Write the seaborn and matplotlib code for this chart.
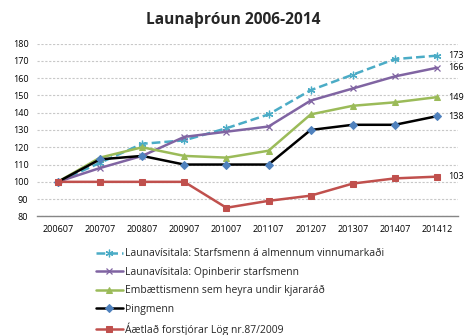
import matplotlib
matplotlib.use("Agg")
import matplotlib.pyplot as plt
import seaborn as sns
import pandas as pd

periods = ["200607", "200707", "200807", "200907", "201007", "201107",
           "201207", "201307", "201407", "201412"]
almennur = [100, 111, 122, 124, 131, 139, 153, 162, 171, 173]
opinberir = [100, 108, 115, 126, 129, 132, 147, 154, 161, 166]
kjararad = [100, 114, 120, 115, 114, 118, 139, 144, 146, 149]
thingmenn = [100, 113, 115, 110, 110, 110, 130, 133, 133, 138]
forstjorar = [100, 100, 100, 100, 85, 89, 92, 99, 102, 103]

names = ["Launavísitala: Starfsmenn á almennum vinnumarkaði",
         "Launavísitala: Opinberir starfsmenn",
         "Embættismenn sem heyra undir kjararáð",
         "Þingmenn",
         "Áætlað forstjórar Lög nr.87/2009"]
series = [almennur, opinberir, kjararad, thingmenn, forstjorar]
end_labels = ["173", "166", "149", "138", "103"]

sns.set_theme(style="white")
plt.rcParams["font.family"] = ["Open Sans", "DejaVu Sans"]

fig = plt.figure(figsize=(4.66, 3.35), dpi=100)
ax = fig.add_axes([0.079, 0.354, 0.904, 0.516])

styles = [
    dict(color="#4BACC6", linestyle=(0, (3.5, 1.6)), marker=(6, 2, 0), markersize=5.5,
         markeredgewidth=0.9, markeredgecolor="#4BACC6", linewidth=1.8),
    dict(color="#8064A2", linestyle="-", marker="x", markersize=4.5,
         markeredgewidth=0.9, markeredgecolor="#8064A2", linewidth=1.8),
    dict(color="#9BBB59", linestyle="-", marker="^", markersize=5,
         markeredgecolor="#9BBB59", markerfacecolor="#9BBB59", linewidth=1.8),
    dict(color="black", linestyle="-", marker="D", markersize=3.8,
         markeredgecolor="#4F81BD", markerfacecolor="#4F81BD", linewidth=1.8),
    dict(color="#C0504D", linestyle="-", marker="s", markersize=4.6,
         markeredgecolor="#C0504D", markerfacecolor="#C0504D", linewidth=1.8),
]

handles = []
for name, vals, st in zip(names, series, styles):
    df = pd.DataFrame({"period": periods, "value": vals})
    sns.lineplot(data=df, x="period", y="value", ax=ax, sort=False,
                 clip_on=False, **st)
    handles.append(ax.lines[-1])

for vals, lab in zip(series, end_labels):
    ax.annotate(lab, xy=(len(periods) - 1, vals[-1]), xytext=(8, 0),
                textcoords="offset points", va="center", ha="left",
                fontsize=6.5, color="black", annotation_clip=False)

ax.set_xlim(-0.5, len(periods) - 0.5)
ax.set_ylim(80, 180)
ax.set_yticks(range(80, 181, 10))
ax.set_xlabel("")
ax.set_ylabel("")
ax.tick_params(axis="both", labelsize=6.5, length=0, colors="black")
ax.tick_params(axis="y", pad=6)
ax.tick_params(axis="x", pad=6)
ax.yaxis.grid(True, color="#C8C8C8", linestyle=(0, (2, 1.5)), linewidth=0.8)
ax.xaxis.grid(False)
for s in ["top", "right", "left"]:
    ax.spines[s].set_visible(False)
ax.spines["bottom"].set_color("#868686")
ax.spines["bottom"].set_linewidth(1.0)
ax.set_axisbelow(True)

fig.suptitle("Launaþróun 2006-2014", x=0.5, y=0.965, fontsize=11.2,
             fontweight="bold", va="top")

leg = fig.legend(handles, names, loc="upper left", bbox_to_anchor=(0.205, 0.259),
                 frameon=False, fontsize=7.5, handlelength=2.6, handletextpad=0.2,
                 labelspacing=0.72, borderpad=0, borderaxespad=0)

fig.savefig("out.png", dpi=100)
